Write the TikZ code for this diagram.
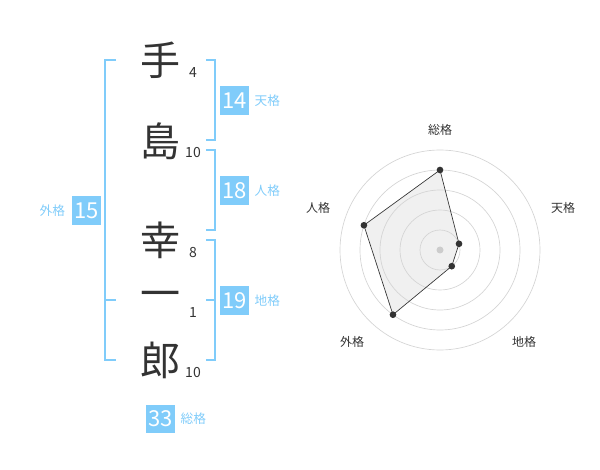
\documentclass[tikz,border=0pt]{standalone}
\usepackage{fontspec}
\setmainfont{Noto Sans CJK JP}
\usetikzlibrary{positioning}
\definecolor{kakublue}{RGB}{128,204,250}
\definecolor{inkgray}{RGB}{51,51,51}
\definecolor{ringgray}{RGB}{212,212,212}
\definecolor{fillgray}{RGB}{240,240,240}

\begin{document}
\begin{tikzpicture}[x=0.75pt, y=-0.75pt,
  kanji/.style={font=\fontsize{30}{30}\selectfont, text=inkgray, inner sep=0pt},
  strk/.style={font=\fontsize{10.5}{11}\selectfont, text=inkgray, inner sep=0pt},
  numbox/.style={fill=kakublue, text=white, font=\fontsize{16.5}{17}\selectfont, minimum size=21.5pt, inner sep=0pt},
  kaku/.style={text=kakublue, font=\fontsize{9.5}{10}\selectfont, inner sep=0pt},
  brk/.style={draw=kakublue, line width=1.5pt},
  ring/.style={draw=ringgray, line width=0.5pt},
  dot/.style={circle, fill=inkgray, inner sep=0pt, minimum size=5pt},
  axlbl/.style={font=\fontsize{9}{10}\selectfont, text=inkgray, inner sep=0pt},
]
\useasboundingbox (0,0) rectangle (600,470);

% name, one character per line
\node[kanji] (te)    at (160,60)  {手};
\node[kanji] (shima) at (160,141) {島};
\node[kanji] (kou)   at (160,240) {幸};
\node[kanji] (ichi)  at (160,300) {一};
\node[kanji] (rou)   at (160,360) {郎};

% stroke counts
\node[strk] (s1) at (193,73)  {4};
\node[strk] (s2) at (193,153) {10};
\node[strk] (s3) at (193,253) {8};
\node[strk] (s4) at (193,313) {1};
\node[strk] (s5) at (193,373) {10};

% brackets
\draw[brk] (116,60) -- (105,60) -- (105,360) -- (116,360);
\draw[brk] (105,300) -- (116,300);
\draw[brk] (206,60) -- (215,60) -- (215,140) -- (206,140);
\draw[brk] (206,150) -- (215,150) -- (215,230) -- (206,230);
\draw[brk] (206,240) -- (215,240) -- (215,360) -- (206,360);
\draw[brk] (206,300) -- (215,300);

% scores
\node[numbox] (ten)  at (234.5,100.5) {14};
\node[kaku, right=4pt of ten] (tenl) {天格};
\node[numbox] (jin)  at (234.5,190.5) {18};
\node[kaku, right=4pt of jin] (jinl) {人格};
\node[numbox] (chi)  at (234.5,300.5) {19};
\node[kaku, right=4pt of chi] (chil) {地格};
\node[numbox] (gai)  at (86.5,210.5) {15};
\node[kaku, left=5pt of gai] (gail) {外格};
\node[numbox] (sou)  at (160.5,419) {33};
\node[kaku, right=4pt of sou] (soul) {総格};

% radar chart
\begin{scope}[shift={(440,250)}]
  \coordinate (rsou) at (-90:80);
  \coordinate (rten) at (-18:20);
  \coordinate (rchi) at (54:20);
  \coordinate (rgai) at (126:80);
  \coordinate (rjin) at (-162:80);
  \fill[fillgray] (rsou) -- (rten) -- (rchi) -- (rgai) -- (rjin) -- cycle;
  \foreach \r in {20,40,60,80,100}
    \draw[ring] (0,0) circle[radius=\r];
  \fill[ringgray!90!black!80] (0,0) circle[radius=3.5];
  \draw[draw=inkgray, line width=0.5pt]
    (rsou) -- (rten) -- (rchi) -- (rgai) -- (rjin) -- cycle;
  \foreach \p in {rsou,rten,rchi,rgai,rjin}
    \node[dot] at (\p) {};
\end{scope}
\node[axlbl] (asou) at (440,130) {総格};
\node[axlbl] (aten) at (563,208) {天格};
\node[axlbl] (achi) at (524,342) {地格};
\node[axlbl] (agai) at (352,342) {外格};
\node[axlbl] (ajin) at (318,208) {人格};
\end{tikzpicture}
\end{document}
